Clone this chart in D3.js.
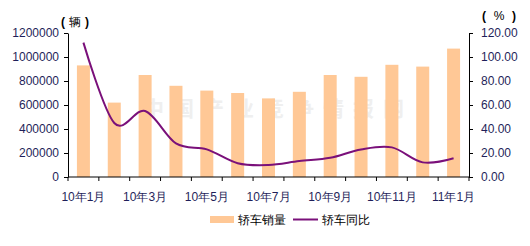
<!DOCTYPE html>
<html>
<head>
<meta charset="utf-8">
<script src="https://cdn.jsdelivr.net/npm/d3@7.9.0/dist/d3.min.js"></script>
<style>
  body { margin: 0; background: #fff; }
  text { font-family: "Liberation Sans", Arial, sans-serif; }
</style>
</head>
<body>
<svg width="530" height="246"></svg>
<script>
const months = ['10年1月', '10年2月', '10年3月', '10年4月', '10年5月', '10年6月', '10年7月',
  '10年8月', '10年9月', '10年10月', '10年11月', '10年12月', '11年1月'];
const sales = [930000, 620000, 850000, 760000, 720000, 700000, 655000,
  710000, 850000, 835000, 935000, 920000, 1070000];
const growth = [112, 45, 55, 28, 23, 11.5, 10, 13.3, 16, 23, 24.7, 12.2, 15.6];
const leftTicks = [0, 200000, 400000, 600000, 800000, 1000000, 1200000];
const rightTicks = [0, 20, 40, 60, 80, 100, 120];

const svg = d3.select('svg');
const plotL = 68, plotR = 469, plotT = 33, plotB = 177;
const tickColor = '#1f1f5a';

let x = d3.scaleBand().domain(months).range([plotL, plotR]);
let yL = d3.scaleLinear().domain([0, 1200000]).range([plotB, plotT]);
let yR = d3.scaleLinear().domain([0, 120]).range([plotB, plotT]);

// watermark
svg.append('text')
  .attr('x', 278).attr('y', 116)
  .attr('text-anchor', 'middle')
  .attr('font-size', 21)
  .attr('font-weight', 'bold')
  .attr('letter-spacing', 9)
  .attr('fill', '#efefef')
  .style('font-family', '"Noto Sans CJK SC", sans-serif')
  .text('中国产业竞争情报网');

// bars
svg.selectAll('rect.bar')
  .data(sales)
  .enter()
  .append('rect')
  .attr('class', 'bar')
  .attr('x', (d, i) => x(months[i]) + x.bandwidth() / 2 - 6.5)
  .attr('width', 13)
  .attr('y', d => yL(d))
  .attr('height', d => plotB - yL(d))
  .attr('fill', '#ffc896');

// smoothed line
let line = d3.line()
  .x((d, i) => x(months[i]) + x.bandwidth() / 2)
  .y(d => yR(d))
  .curve(d3.curveCardinal.tension(0));

svg.append('path')
  .attr('d', line(growth))
  .attr('fill', 'none')
  .attr('stroke', '#7a107a')
  .attr('stroke-width', 2);

// left axis
let axL = svg.append('g')
  .attr('transform', `translate(${plotL},0)`)
  .call(d3.axisLeft(yL).tickValues(leftTicks).tickSize(4).tickSizeOuter(0).tickFormat(d3.format('d')));
axL.selectAll('text').attr('font-size', 12).attr('fill', tickColor).attr('x', -9);

// right axis
let axR = svg.append('g')
  .attr('transform', `translate(${plotR},0)`)
  .call(d3.axisRight(yR).tickValues(rightTicks).tickSize(4).tickSizeOuter(0).tickFormat(d3.format('.2f')));
axR.selectAll('text').attr('font-size', 12).attr('fill', tickColor).attr('x', 12);

// bottom axis: ticks on band boundaries, labels every other month
let xb = svg.append('g').attr('transform', `translate(0,${plotB})`);
xb.append('line').attr('x1', plotL).attr('x2', plotR).attr('stroke', '#000');
let bounds = d3.range(months.length + 1).map(i => plotL + i * x.step());
xb.selectAll('line.tk').data(bounds).enter().append('line')
  .attr('class', 'tk')
  .attr('x1', d => d).attr('x2', d => d)
  .attr('y1', 0).attr('y2', 4)
  .attr('stroke', '#000');
xb.selectAll('text').data(months.filter((m, i) => i % 2 == 0)).enter().append('text')
  .attr('x', d => x(d) + x.bandwidth() / 2)
  .attr('y', 24)
  .attr('text-anchor', 'middle')
  .attr('font-size', 12)
  .attr('fill', tickColor)
  .text(d => d);

svg.selectAll('.domain').attr('stroke', '#000');
svg.selectAll('.tick line').attr('stroke', '#000');

// unit labels, parens spaced apart like the original
function unitLabel(cx, y, gap, s) {
  let g = svg.append('g').attr('font-size', 12).attr('font-weight', 'bold').attr('fill', '#000');
  g.append('text').attr('x', cx - gap).attr('y', y).attr('text-anchor', 'middle').text('(');
  g.append('text').attr('x', cx).attr('y', y).attr('text-anchor', 'middle').attr('font-weight', 'normal').text(s);
  g.append('text').attr('x', cx + gap).attr('y', y).attr('text-anchor', 'middle').text(')');
}
unitLabel(75, 26, 12, '辆');
unitLabel(499, 20, 15, '%');

// legend
let lg = svg.append('g');
lg.append('rect').attr('x', 210).attr('y', 216).attr('width', 24).attr('height', 7).attr('fill', '#ffc896');
lg.append('text').attr('x', 238).attr('y', 224).attr('font-size', 12).text('轿车销量');
lg.append('line').attr('x1', 293).attr('x2', 318).attr('y1', 219.5).attr('y2', 219.5)
  .attr('stroke', '#7a107a').attr('stroke-width', 2);
lg.append('text').attr('x', 322).attr('y', 224).attr('font-size', 12).text('轿车同比');
</script>
</body>
</html>
